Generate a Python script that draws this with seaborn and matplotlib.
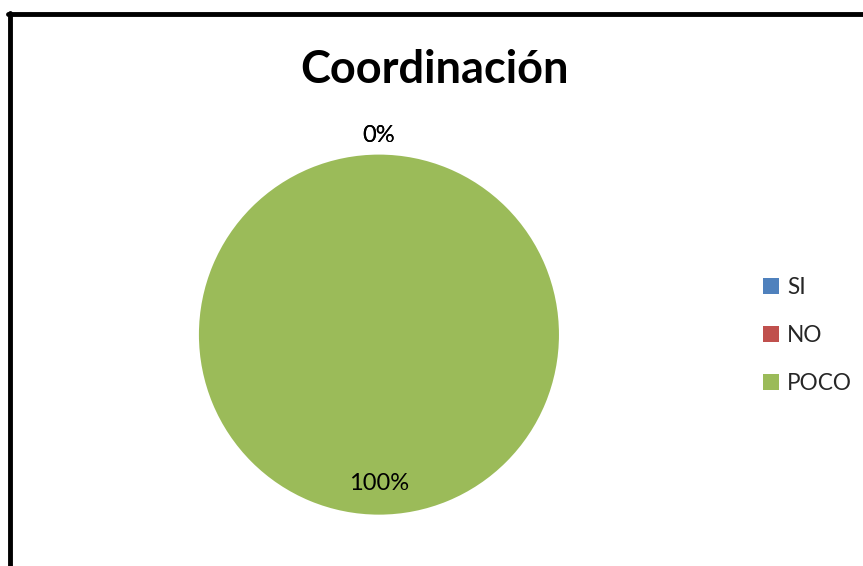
import numpy as np
import matplotlib
matplotlib.use("Agg")
import matplotlib.pyplot as plt
import seaborn as sns
from matplotlib.lines import Line2D
from matplotlib.patches import Patch

# data
categories = ["SI", "NO", "POCO"]
values = [0, 0, 100]
colors = ["#4F81BD", "#C0504D", "#9BBB59"]

sns.set_theme(style="white")
plt.rcParams['font.family'] = ['Lato', 'DejaVu Sans']

fig = plt.figure(figsize=(8.63, 5.66), dpi=100)
ax = fig.add_axes([0.2305, 0.0899, 0.4172, 0.6378])

wedges, _ = ax.pie(values, colors=colors, startangle=90, counterclock=False,
                   radius=1.0, wedgeprops=dict(linewidth=0))
ax.set_aspect("equal")
ax.set_xlim(-1, 1)
ax.set_ylim(-1, 1)

# percentage labels
total = sum(values)
for w, v in zip(wedges, values):
    ang = np.deg2rad((w.theta1 + w.theta2) / 2)
    pct = 100 * v / total
    dist = 1.12 if v == 0 else 0.81
    ax.text(dist * np.cos(ang), dist * np.sin(ang) - 0.015, f"{pct:.0f}%",
            ha="center", va="center", fontsize=17, color="black")

fig.text(0.503, 0.877, "Coordinación", ha="center", va="center",
         fontsize=32.5, fontweight="bold", color="black")

handles = [Patch(facecolor=c, edgecolor="none") for c in colors]
fig.legend(handles, categories, loc="center left", bbox_to_anchor=(0.861, 0.407),
           frameon=False, fontsize=16.3, handlelength=0.7, handleheight=0.7,
           handletextpad=0.35, labelspacing=1.2)

# outer frame (left and top edges visible)
fig.add_artist(Line2D([0.0115, 0.0115], [0.0, 0.9770], color="black", lw=3.5,
                      transform=fig.transFigure))
fig.add_artist(Line2D([0.0095, 1.0], [0.9760, 0.9760], color="black", lw=3.5,
                      transform=fig.transFigure))

fig.savefig("out.png", dpi=100)
